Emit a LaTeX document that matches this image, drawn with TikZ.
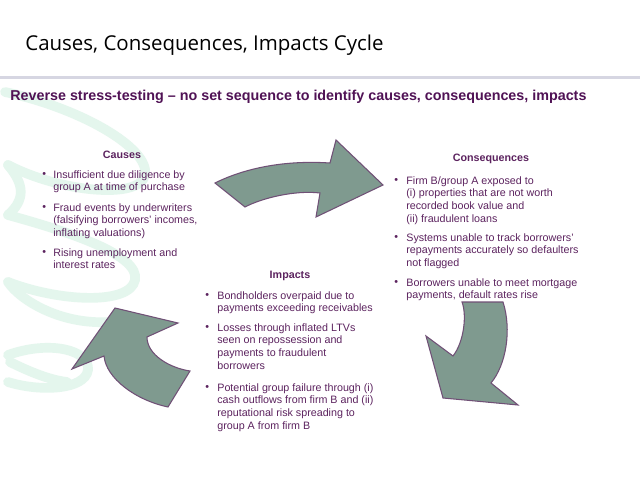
\documentclass[tikz,border=0pt]{standalone}
\usepackage{fontspec}
\setmainfont{Liberation Sans}
\newfontfamily\titlefont{Open Sans}
\definecolor{txt}{RGB}{92,35,95}
\definecolor{subtxt}{RGB}{80,18,85}
\definecolor{arrowfill}{RGB}{127,154,143}
\definecolor{arrowline}{RGB}{112,80,118}
\definecolor{mint}{RGB}{228,246,237}
\definecolor{rulegray}{RGB}{214,214,226}
\begin{document}
\begin{tikzpicture}[x=0.02cm,y=-0.02cm,
  body/.style={font=\fontsize{6.1}{7.26}\selectfont, text=txt, inner sep=0pt, align=left, anchor=north west},
  bdot/.style={font=\fontsize{6.1}{7.26}\selectfont, text=txt, inner sep=0pt, anchor=north west},
  heading/.style={font=\fontsize{6.1}{7.26}\selectfont\bfseries, text=txt, inner sep=0pt},
  cyclearrow/.style={fill=arrowfill, draw=arrowline, line width=0.6pt, line join=miter},
  watermark/.style={draw=mint, line width=5.5pt, line cap=round}]
\useasboundingbox (0,0) rectangle (640,480);
\fill[white] (0,0) rectangle (640,480);

% faint decorative loops along the left edge
\draw[watermark] (5,92) .. controls (80,108) and (150,148) .. (145,175)
                 .. controls (140,200) and (60,192) .. (8,165);
\draw[watermark] (8,165) .. controls (25,185) and (25,200) .. (8,215);
\draw[watermark] (8,215) .. controls (70,232) and (140,255) .. (135,280)
                 .. controls (130,305) and (60,302) .. (8,282);
\draw[watermark] (8,282) .. controls (20,300) and (60,325) .. (110,322);
\draw[watermark] (8,355) .. controls (50,340) and (90,350) .. (88,370)
                 .. controls (85,390) and (40,392) .. (8,382);
\draw[watermark] (10,362) .. controls (30,372) and (50,380) .. (67,382);

% title and rule
\node[font=\titlefont\fontsize{11.65}{14}\selectfont, anchor=west, inner sep=0pt] (title) at (25,45)
  {Causes, Consequences, Impacts Cycle};
\fill[rulegray] (0,76) rectangle (640,79);
\node[font=\fontsize{8.15}{9.5}\selectfont\bfseries, text=subtxt, anchor=west, inner sep=0pt] (subtitle) at (10,97)
  {Reverse stress-testing -- no set sequence to identify causes, consequences, impacts};

% cycle arrows
\draw[cyclearrow] (215,183) .. controls (245,168) and (285,160) .. (330,163)
  -- (336,140) -- (383,185) -- (316,217) -- (320,193)
  .. controls (295,190) and (262,198) .. (245,207) -- cycle;
\draw[cyclearrow] (462,302) -- (503,302)
  .. controls (512,330) and (506,365) .. (491,383)
  -- (518,405) -- (443,398) -- (426,336) -- (453,356)
  .. controls (464,342) and (467,315) .. cycle;
\draw[cyclearrow] (115,308) -- (178,323) -- (147,337)
  .. controls (147,355) and (170,368) .. (190,371)
  -- (168,407) .. controls (135,400) and (106,378) .. (104,356)
  -- (72,369) -- cycle;

% causes
\node[heading] (causes) at (122,155) {Causes};
\node[bdot] (c1b) at (42,170) {\vphantom{I}•};
\node[body] (c1) at (53,170) {Insufficient due diligence by\\group A at time of purchase};
\node[bdot] (c2b) at (42,203) {\vphantom{I}•};
\node[body] (c2) at (53,203) {Fraud events by underwriters\\(falsifying borrowers’ incomes,\\inflating valuations)};
\node[bdot] (c3b) at (42,248) {\vphantom{I}•};
\node[body] (c3) at (53,248) {Rising unemployment and\\interest rates};

% consequences
\node[heading] (cons) at (491,159) {Consequences};
\node[bdot] (k1b) at (394,176) {\vphantom{I}•};
\node[body] (k1) at (406,176) {Firm B/group A exposed to\\(i) properties that are not worth\\recorded book value and\\(ii) fraudulent loans};
\node[bdot] (k2b) at (394,233) {\vphantom{I}•};
\node[body] (k2) at (406,233) {Systems unable to track borrowers’\\repayments accurately so defaulters\\not flagged};
\node[bdot] (k3b) at (394,278) {\vphantom{I}•};
\node[body] (k3) at (406,278) {Borrowers unable to meet mortgage\\payments, default rates rise};

% impacts
\node[heading] (imp) at (290,276) {Impacts};
\node[bdot] (i1b) at (205,291) {\vphantom{I}•};
\node[body] (i1) at (217,291) {Bondholders overpaid due to\\payments exceeding receivables};
\node[bdot] (i2b) at (205,323) {\vphantom{I}•};
\node[body] (i2) at (217,323) {Losses through inflated LTVs\\seen on repossession and\\payments to fraudulent\\borrowers};
\node[bdot] (i3b) at (205,383) {\vphantom{I}•};
\node[body] (i3) at (217,383) {Potential group failure through (i)\\cash outflows from firm B and (ii)\\reputational risk spreading to\\group A from firm B};
\end{tikzpicture}
\end{document}
